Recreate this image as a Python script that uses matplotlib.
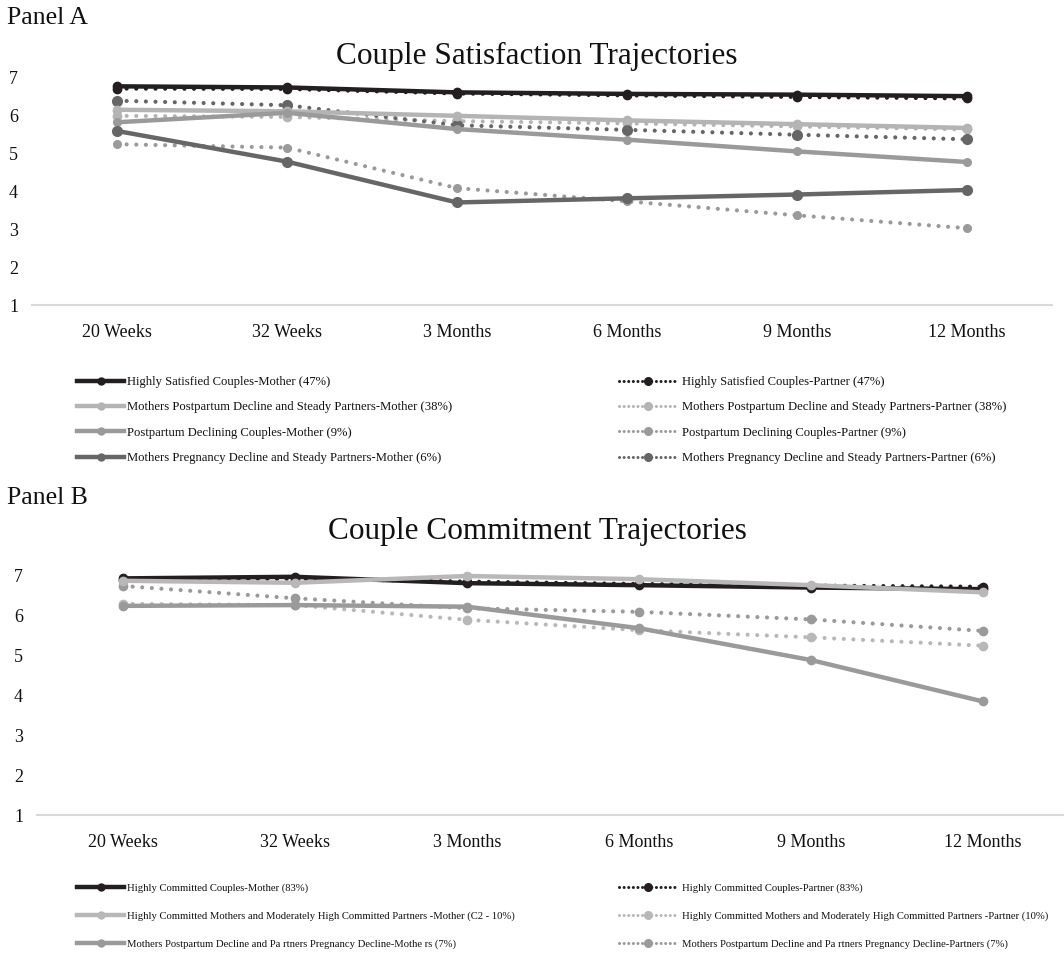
import numpy as np
import matplotlib
matplotlib.use("Agg")
import matplotlib.pyplot as plt
from matplotlib.lines import Line2D

plt.rcParams['font.family'] = ['Liberation Serif', 'DejaVu Serif']

# x categories (shared by both panels)
timepoints = ['20 Weeks', '32 Weeks', '3 Months', '6 Months', '9 Months', '12 Months']
y_ticks = [1, 2, 3, 4, 5, 6, 7]

# ---- Panel A: couple satisfaction ----
sat_labels_mother = ['Highly Satisfied Couples-Mother (47%)',
                     'Mothers Postpartum Decline and Steady Partners-Mother (38%)',
                     'Postpartum Declining Couples-Mother (9%)',
                     'Mothers Pregnancy Decline and Steady Partners-Mother (6%)']
sat_labels_partner = ['Highly Satisfied Couples-Partner (47%)',
                      'Mothers Postpartum Decline and Steady Partners-Partner (38%)',
                      'Postpartum Declining Couples-Partner (9%)',
                      'Mothers Pregnancy Decline and Steady Partners-Partner (6%)']
sat_mother = [
    [6.78, 6.75, 6.62, 6.58, 6.56, 6.52],
    [6.16, 6.12, 6.00, 5.88, 5.78, 5.68],
    [5.83, 6.08, 5.65, 5.37, 5.06, 4.78],
    [5.60, 4.79, 3.71, 3.82, 3.92, 4.04],
]
sat_partner = [
    [6.72, 6.71, 6.59, 6.54, 6.50, 6.46],
    [6.00, 5.97, 5.86, 5.80, 5.72, 5.64],
    [5.25, 5.16, 4.09, 3.74, 3.37, 3.03],
    [6.40, 6.28, 5.75, 5.63, 5.50, 5.38],
]
sat_colors = ['#231f20', '#b4b4b4', '#9a9a9a', '#666666']
sat_msize = [6, 6, 5.5, 7]

# ---- Panel B: couple commitment ----
com_labels_mother = ['Highly Committed Couples-Mother (83%)',
                     'Highly Committed Mothers and Moderately High Committed Partners -Mother (C2 - 10%)',
                     'Mothers Postpartum Decline and Pa rtners Pregnancy Decline-Mothe rs (7%)']
com_labels_partner = ['Highly Committed Couples-Partner (83%)',
                      'Highly Committed Mothers and Moderately High Committed Partners -Partner (10%)',
                      'Mothers Postpartum Decline and Pa rtners Pregnancy Decline-Partners (7%)']
com_mother = [
    [6.94, 6.98, 6.82, 6.77, 6.71, 6.67],
    [6.88, 6.83, 7.00, 6.92, 6.77, 6.59],
    [6.25, 6.27, 6.23, 5.69, 4.89, 3.85],
]
com_partner = [
    [6.91, 6.93, 6.86, 6.80, 6.76, 6.73],
    [6.30, 6.27, 5.90, 5.64, 5.46, 5.25],
    [6.75, 6.44, 6.19, 6.10, 5.91, 5.62],
]
com_colors = ['#231f20', '#b8b8b8', '#9a9a9a']
com_msize = [6, 6, 6]

W, H = 1064, 958
fig = plt.figure(figsize=(W / 100, H / 100), dpi=100)
TXT = '#111111'
DOTS = (0, (0.01, 2.3))


def px_axes(left, right, top, bottom):
    return fig.add_axes([left / W, 1 - bottom / H, (right - left) / W, (bottom - top) / H])


def draw_panel(ax, mothers, partners, colors, msizes, lab_m, lab_p, leg_top, leg_fs, leg_sp):
    x = np.arange(len(timepoints))
    # partner (dotted) lines first, mother lines drawn above
    for vals, c, ms in zip(partners, colors, msizes):
        ax.plot(x, vals, color=c, lw=3.0, linestyle=DOTS, dash_capstyle='round',
                marker='o', ms=ms, mfc=c, mec=c, clip_on=False, zorder=2)
    for vals, c, ms in zip(mothers, colors, msizes):
        ax.plot(x, vals, color=c, lw=3.2, solid_capstyle='round',
                marker='o', ms=ms, mfc=c, mec=c, clip_on=False, zorder=3)
    ax.set_xlim(-0.5, len(timepoints) - 0.5)
    ax.set_ylim(1, 7)
    ax.set_yticks(y_ticks)
    ax.set_xticks(x)
    ax.set_xticklabels(timepoints)
    ax.tick_params(length=0, labelsize=13, colors=TXT)
    ax.tick_params(axis='y', pad=10)
    ax.tick_params(axis='x', pad=14)
    for s in ['top', 'right', 'left']:
        ax.spines[s].set_visible(False)
    ax.spines['bottom'].set_color('#d9d9d9')
    ax.spines['bottom'].set_linewidth(1.5)

    # legend samples (Excel style: short thick line with marker in the middle)
    fs_px = leg_fs * 100 / 72
    hm = [Line2D([], [], color=c, lw=3.2, marker='o', ms=5, mfc=c, mec=c) for c in colors]
    hp = [Line2D([], [], color=c, lw=2.2, linestyle=(0, (0.01, 1.5)), dash_capstyle='round',
                 marker='o', ms=5.5, mfc=c, mec=c) for c in colors]
    common = dict(frameon=False, fontsize=leg_fs, borderpad=0, borderaxespad=0,
                  labelspacing=leg_sp, labelcolor=TXT)
    fig.legend(hm, lab_m, loc='upper left', bbox_to_anchor=(77 / W, 1 - leg_top / H),
               handlelength=47 / fs_px, handletextpad=3 / fs_px, **common)
    fig.legend(hp, lab_p, loc='upper left', bbox_to_anchor=(619 / W, 1 - leg_top / H),
               handlelength=57 / fs_px, handletextpad=6 / fs_px, **common)


axA = px_axes(32, 1052, 78, 305)
draw_panel(axA, sat_mother, sat_partner, sat_colors, sat_msize,
           sat_labels_mother, sat_labels_partner, 376, 9.1, 1.06)

axB = px_axes(37, 1069, 576, 815)
draw_panel(axB, com_mother, com_partner, com_colors, com_msize,
           com_labels_mother, com_labels_partner, 883, 7.7, 1.72)

fig.text(537 / W, 1 - 56 / H, 'Couple Satisfaction Trajectories', fontsize=22.5,
         color=TXT, ha='center', va='center')
fig.text(537 / W, 1 - 532 / H, 'Couple Commitment Trajectories', fontsize=22.5,
         color=TXT, ha='center', va='center')
fig.text(7 / W, 1 - 18 / H, 'Panel A', fontsize=18.5, color=TXT, va='center', ha='left')
fig.text(7 / W, 1 - 498 / H, 'Panel B', fontsize=18.5, color=TXT, va='center', ha='left')

fig.savefig('out.png', dpi=100, facecolor='white')
